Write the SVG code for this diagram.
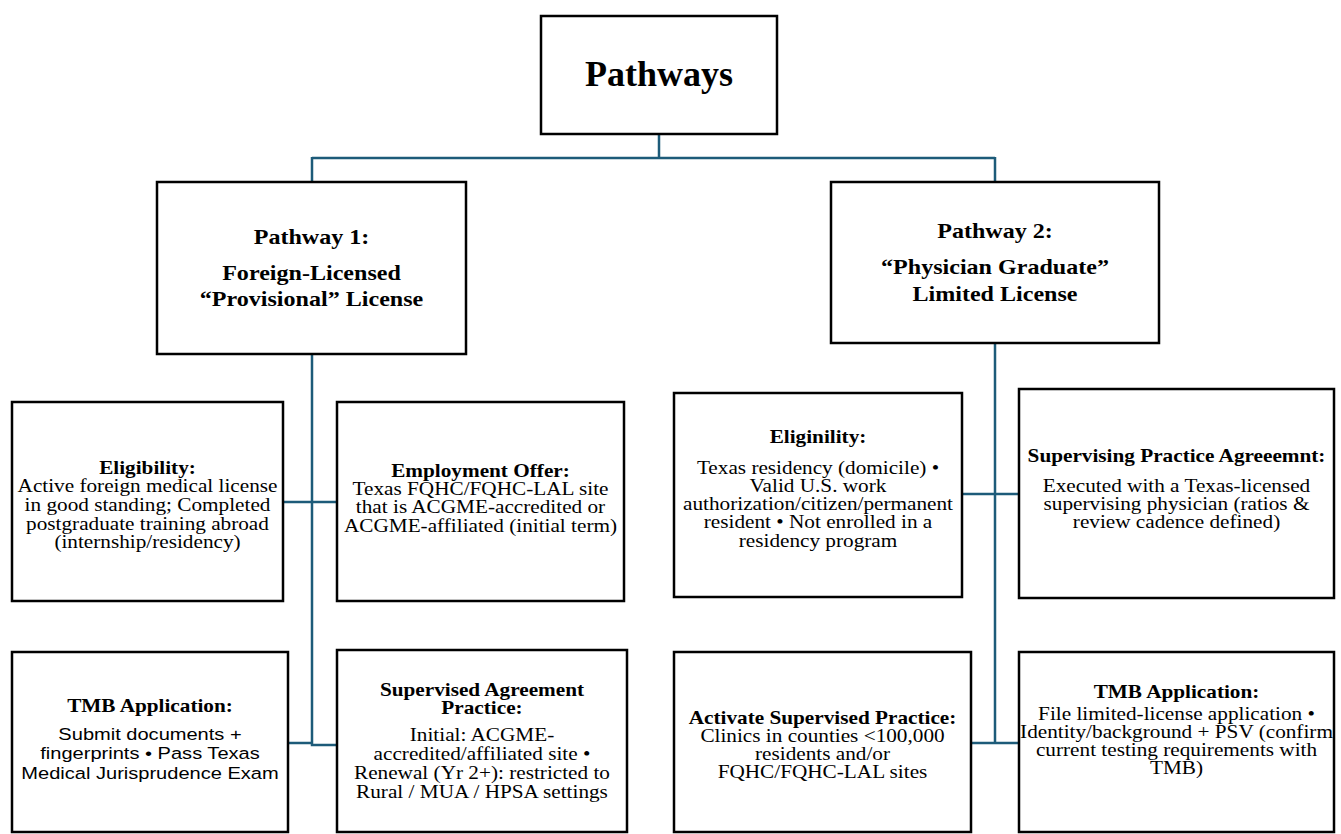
<svg xmlns="http://www.w3.org/2000/svg" width="1341" height="834" viewBox="0 0 1341 834">
<style>
.box{fill:#fff;stroke:#000;stroke-width:2.5}
.c{fill:none;stroke:#1D5B79;stroke-width:2.5}
text{font-family:"Liberation Serif","Times New Roman",Times,serif;fill:#000;text-anchor:middle}
.h0{font-size:36px;font-weight:bold}
.h1{font-size:21.5px;font-weight:bold}
.t{font-size:18px;font-weight:bold}
.b{font-size:18px}
.s{font-family:"Liberation Sans",Arial,sans-serif;font-size:17px}
</style>
<rect width="1341" height="834" fill="#fff"/>
<g id="connectors">
<path class="c" d="M659,135V158M312,158H995M312,157V182M995,157V182"/>
<path class="c" d="M312,354V745H337M283,502H337M288,743H312"/>
<path class="c" d="M995,343V743M962,494H1019M971,743H1019"/>
</g>
<g id="pathways">
<rect class="box" x="541" y="16" width="236" height="118"/>
<text class="h0" x="659" y="86">Pathways</text>
</g>
<g id="pathway1">
<rect class="box" x="157" y="182" width="309" height="172"/>
<g transform="translate(311.5 0) scale(1.12 1)">
<text class="h1" x="0" y="244">Pathway 1:</text>
<text class="h1" x="0" y="280">Foreign-Licensed</text>
<text class="h1" x="0" y="306">“Provisional” License</text>
</g>
</g>
<g id="pathway2">
<rect class="box" x="831" y="182" width="328" height="161"/>
<g transform="translate(995 0) scale(1.12 1)">
<text class="h1" x="0" y="238">Pathway 2:</text>
<text class="h1" x="0" y="274">“Physician Graduate”</text>
<text class="h1" x="0" y="301">Limited License</text>
</g>
</g>
<g id="p1-eligibility">
<rect class="box" x="12" y="402" width="271" height="199"/>
<g transform="translate(147.5 0) scale(1.18 1)">
<text class="t" x="0" y="474">Eligibility:</text>
<text class="b" x="0" y="492">Active foreign medical license</text>
<text class="b" x="0" y="511">in good standing; Completed</text>
<text class="b" x="0" y="530">postgraduate training abroad</text>
<text class="b" x="0" y="548">(internship/residency)</text>
</g>
</g>
<g id="p1-employment">
<rect class="box" x="337" y="402" width="287" height="199"/>
<g transform="translate(480.5 0) scale(1.18 1)">
<text class="t" x="0" y="477">Employment Offer:</text>
<text class="b" x="0" y="495">Texas FQHC/FQHC-LAL site</text>
<text class="b" x="0" y="513">that is ACGME-accredited or</text>
<text class="b" x="0" y="532">ACGME-affiliated (initial term)</text>
</g>
</g>
<g id="p1-tmb">
<rect class="box" x="12" y="652" width="276" height="180"/>
<g transform="translate(150 0) scale(1.18 1)">
<text class="t" x="0" y="712">TMB Application:</text>
<text class="s" x="0" y="740">Submit documents +</text>
<text class="s" x="0" y="759">fingerprints • Pass Texas</text>
<text class="s" x="0" y="779">Medical Jurisprudence Exam</text>
</g>
</g>
<g id="p1-supervised">
<rect class="box" x="337" y="650" width="290" height="182"/>
<g transform="translate(482 0) scale(1.18 1)">
<text class="t" x="0" y="696">Supervised Agreement</text>
<text class="t" x="0" y="714">Practice:</text>
<text class="b" x="0" y="741">Initial: ACGME-</text>
<text class="b" x="0" y="760">accredited/affiliated site •</text>
<text class="b" x="0" y="779">Renewal (Yr 2+): restricted to</text>
<text class="b" x="0" y="798">Rural / MUA / HPSA settings</text>
</g>
</g>
<g id="p2-eligibility">
<rect class="box" x="674" y="393" width="288" height="204"/>
<g transform="translate(818 0) scale(1.18 1)">
<text class="t" x="0" y="443">Eliginility:</text>
<text class="b" x="0" y="474">Texas residency (domicile) •</text>
<text class="b" x="0" y="492">Valid U.S. work</text>
<text class="b" x="0" y="510">authorization/citizen/permanent</text>
<text class="b" x="0" y="528">resident • Not enrolled in a</text>
<text class="b" x="0" y="547">residency program</text>
</g>
</g>
<g id="p2-agreement">
<rect class="box" x="1019" y="389" width="315" height="209"/>
<g transform="translate(1176.5 0) scale(1.18 1)">
<text class="t" x="0" y="462">Supervising Practice Agreeemnt:</text>
<text class="b" x="0" y="492">Executed with a Texas-licensed</text>
<text class="b" x="0" y="510">supervising physician (ratios &amp;</text>
<text class="b" x="0" y="528">review cadence defined)</text>
</g>
</g>
<g id="p2-activate">
<rect class="box" x="674" y="652" width="297" height="180"/>
<g transform="translate(822.5 0) scale(1.18 1)">
<text class="t" x="0" y="724">Activate Supervised Practice:</text>
<text class="b" x="0" y="742">Clinics in counties &lt;100,000</text>
<text class="b" x="0" y="760">residents and/or</text>
<text class="b" x="0" y="778">FQHC/FQHC-LAL sites</text>
</g>
</g>
<g id="p2-tmb">
<rect class="box" x="1019" y="652" width="315" height="180"/>
<g transform="translate(1176.5 0) scale(1.18 1)">
<text class="t" x="0" y="698">TMB Application:</text>
<text class="b" x="0" y="720">File limited-license application •</text>
<text class="b" x="0" y="738">Identity/background + PSV (confirm</text>
<text class="b" x="0" y="756">current testing requirements with</text>
<text class="b" x="0" y="774">TMB)</text>
</g>
</g>
</svg>
